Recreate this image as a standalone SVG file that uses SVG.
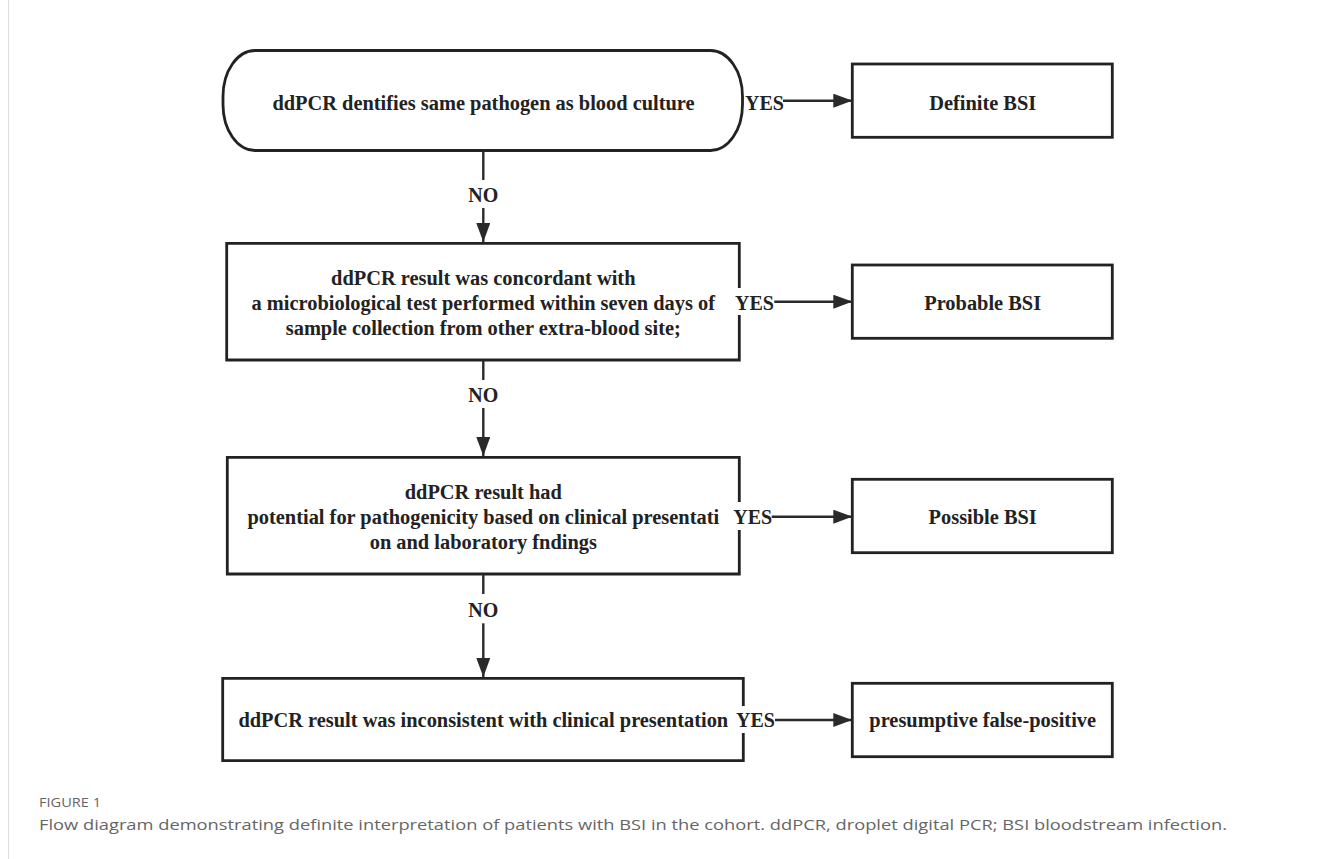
<svg xmlns="http://www.w3.org/2000/svg" width="1322" height="859" viewBox="0 0 1322 859">
  <style>
    .box { fill: #ffffff; stroke: #222222; stroke-width: 2.8; }
    .edge { fill: none; stroke: #222222; stroke-width: 2.8; }
    .conn { fill: none; stroke: #2a2a2a; stroke-width: 2.4; }
    .t { font-family: "Liberation Serif", "Times New Roman", serif; font-weight: bold; font-size: 20.4px; fill: #222222; text-anchor: middle; }
    .lbl { font-family: "Liberation Serif", "Times New Roman", serif; font-weight: bold; font-size: 20px; fill: #222222; }
    .cap { font-family: "Open Sans", "Noto Sans", sans-serif; fill: #666666; }
  </style>
  <defs>
    <marker id="arr" markerUnits="userSpaceOnUse" markerWidth="19" markerHeight="14" refX="19" refY="7" orient="auto">
      <path d="M0,0 L19,7 L0,14 Z" fill="#2a2a2a"/>
    </marker>
  </defs>
  <rect x="0" y="0" width="1322" height="859" fill="#ffffff"/>
  <line x1="8.5" y1="0" x2="8.5" y2="859" stroke="#dddddd" stroke-width="1"/>

  <g id="n1">
    <rect class="box" x="223" y="50.5" width="519.5" height="100" rx="32" ry="46"/>
    <text class="t" x="483.5" y="110">ddPCR dentifies same pathogen as blood culture</text>
  </g>
  <g id="n2">
    <path class="edge" d="M739.3,288 V243.3 H226.7 V360 H739.3 V315"/>
    <text class="t" x="483.3" y="285">ddPCR result was concordant with</text>
    <text class="t" x="483.3" y="310">a microbiological test performed within seven days of</text>
    <text class="t" x="483.3" y="335">sample collection from other extra-blood site;</text>
  </g>
  <g id="n3">
    <path class="edge" d="M739.3,502 V457.3 H227.3 V574 H739.3 V530"/>
    <text class="t" x="483.3" y="499">ddPCR result had</text>
    <text class="t" x="483.3" y="524">potential for pathogenicity based on clinical presentati</text>
    <text class="t" x="483.3" y="549.3">on and laboratory fndings</text>
  </g>
  <g id="n4">
    <path class="edge" d="M743.3,706 V678.3 H222.7 V760.7 H743.3 V733"/>
    <text class="t" x="483.3" y="727.3">ddPCR result was inconsistent with clinical presentation</text>
  </g>
  <g id="r1">
    <rect class="box" x="852.3" y="64" width="260" height="73.3"/>
    <text class="t" x="982.7" y="110">Definite BSI</text>
  </g>
  <g id="r2">
    <rect class="box" x="852.3" y="265" width="260" height="73.3"/>
    <text class="t" x="982.7" y="310">Probable BSI</text>
  </g>
  <g id="r3">
    <rect class="box" x="852.3" y="479.3" width="260" height="73.4"/>
    <text class="t" x="982.7" y="524">Possible BSI</text>
  </g>
  <g id="r4">
    <rect class="box" x="852.3" y="683.3" width="260" height="73.4"/>
    <text class="t" x="982.7" y="727.3">presumptive false-positive</text>
  </g>

  <g id="connectors">
    <line class="conn" x1="783" y1="100.7" x2="852.3" y2="100.7" marker-end="url(#arr)"/>
    <text class="lbl" x="745" y="110">YES</text>
    <line class="conn" x1="774.3" y1="301.7" x2="852.3" y2="301.7" marker-end="url(#arr)"/>
    <text class="lbl" x="735" y="310">YES</text>
    <line class="conn" x1="771.7" y1="516.7" x2="852.3" y2="516.7" marker-end="url(#arr)"/>
    <text class="lbl" x="733.3" y="524">YES</text>
    <line class="conn" x1="775" y1="720" x2="852.3" y2="720" marker-end="url(#arr)"/>
    <text class="lbl" x="736" y="727.3">YES</text>

    <line class="conn" x1="483.3" y1="150.7" x2="483.3" y2="180"/>
    <text class="lbl" x="483.3" y="201.7" text-anchor="middle">NO</text>
    <line class="conn" x1="483.3" y1="208" x2="483.3" y2="242" marker-end="url(#arr)"/>
    <line class="conn" x1="483.3" y1="360" x2="483.3" y2="380"/>
    <text class="lbl" x="483.3" y="401.7" text-anchor="middle">NO</text>
    <line class="conn" x1="483.3" y1="408" x2="483.3" y2="456" marker-end="url(#arr)"/>
    <line class="conn" x1="483.3" y1="574" x2="483.3" y2="594"/>
    <text class="lbl" x="483.3" y="616.7" text-anchor="middle">NO</text>
    <line class="conn" x1="483.3" y1="623.3" x2="483.3" y2="677" marker-end="url(#arr)"/>
  </g>

  <text class="cap" x="39" y="806.7" font-size="13" textLength="62" lengthAdjust="spacingAndGlyphs">FIGURE 1</text>
  <text class="cap" x="39" y="830" font-size="15" textLength="1188" lengthAdjust="spacingAndGlyphs">Flow diagram demonstrating definite interpretation of patients with BSI in the cohort. ddPCR, droplet digital PCR; BSI bloodstream infection.</text>
</svg>
